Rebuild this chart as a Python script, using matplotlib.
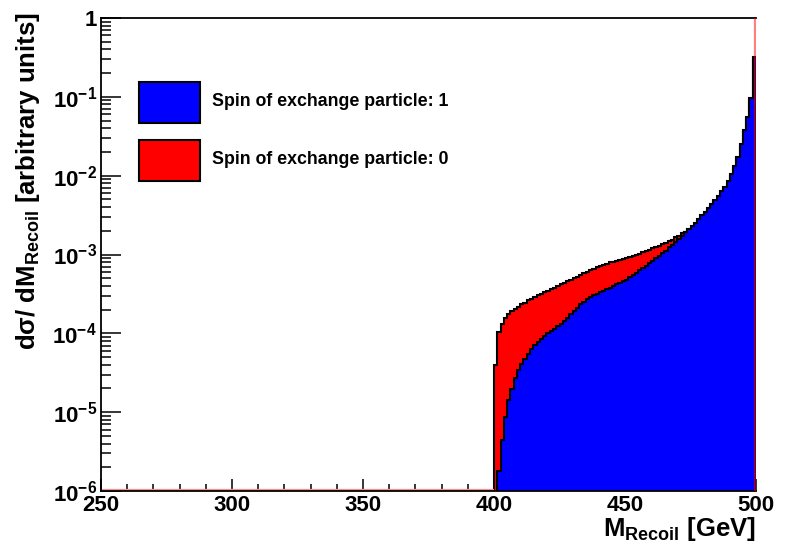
import numpy as np
import matplotlib
matplotlib.use("Agg")
import matplotlib.pyplot as plt
from matplotlib.patches import Rectangle
from matplotlib.ticker import LogLocator, MultipleLocator, FuncFormatter, NullFormatter

plt.rcParams['font.family'] = ['Liberation Sans', 'DejaVu Sans']
plt.rcParams['font.weight'] = 'bold'
plt.rcParams['mathtext.fontset'] = 'custom'
plt.rcParams['mathtext.rm'] = 'Liberation Sans:bold'
plt.rcParams['mathtext.bf'] = 'Liberation Sans:bold'
plt.rcParams['mathtext.it'] = 'Liberation Sans:bold'

# recoil mass histogram, 1.25 GeV bins from 400 to 500 GeV
bin_lo, bin_hi, bin_width = 400.0, 500.0, 1.25

# log10 of dsigma/dM per bin (None = empty bin)
spin1_log10 = [
    None, -5.74, -5.35, -5.06, -4.85, -4.70, -4.57, -4.47, -4.39, -4.32,
    -4.26, -4.20, -4.15, -4.11, -4.07, -4.03, -4.00, -3.97, -3.94, -3.91,
    -3.88, -3.84, -3.80, -3.76, -3.72, -3.68, -3.63, -3.60, -3.57, -3.54,
    -3.52, -3.50, -3.48, -3.46, -3.44, -3.42, -3.40, -3.38, -3.36, -3.34,
    -3.32, -3.29, -3.26, -3.23, -3.20, -3.17, -3.14, -3.11, -3.08, -3.05,
    -3.02, -2.98, -2.95, -2.91, -2.88, -2.84, -2.80, -2.76, -2.72, -2.68,
    -2.64, -2.60, -2.55, -2.50, -2.46, -2.41, -2.36, -2.31, -2.26, -2.20,
    -2.14, -2.07, -1.98, -1.88, -1.76, -1.60, -1.42, -1.25, -1.02, -0.49,
]
spin0_log10 = [
    -4.40, -3.98, -3.88, -3.81, -3.76, -3.72, -3.69, -3.66, -3.63, -3.61,
    -3.58, -3.56, -3.54, -3.52, -3.50, -3.48, -3.46, -3.44, -3.42, -3.40,
    -3.38, -3.36, -3.34, -3.32, -3.30, -3.28, -3.26, -3.24, -3.22, -3.20,
    -3.18, -3.16, -3.15, -3.13, -3.12, -3.10, -3.09, -3.08, -3.07, -3.06,
    -3.05, -3.03, -3.02, -3.00, -2.99, -2.97, -2.96, -2.94, -2.92, -2.91,
    -2.89, -2.87, -2.85, -2.83, -2.81, -2.78, -2.76, -2.73, -2.71, -2.68,
    -2.66, -2.63, -2.58, -2.53, -2.49, -2.44, -2.39, -2.34, -2.29, -2.23,
    -2.17, -2.10, -2.01, -1.91, -1.79, -1.63, -1.45, -1.28, -1.05, -0.52,
]
legend_labels = ["Spin of exchange particle: 1", "Spin of exchange particle: 0"]

x_min, x_max = 250, 500
y_min, y_max = 1e-6, 1.0


def to_values(logs):
    return np.array([10.0 ** e if e is not None else 0.0 for e in logs])


edges = np.arange(bin_lo, bin_hi + bin_width / 2, bin_width)
floor = y_min * 0.01
spin0 = np.maximum(to_values(spin0_log10), floor)
spin1 = np.maximum(to_values(spin1_log10), floor)

fig = plt.figure(figsize=(7.87, 5.47), dpi=100)
ax = fig.add_axes([101 / 787, 56 / 547, 655 / 787, 473 / 547])

ax.stairs(spin0, edges, fill=True, baseline=floor, facecolor='#ff0000',
          edgecolor='black', linewidth=1.5, zorder=2)
ax.stairs(spin1, edges, fill=True, baseline=floor, facecolor='#0000ff',
          edgecolor='black', linewidth=1.5, zorder=3)
# spin-0 histogram line: empty bins below threshold and its right edge
ax.hlines(y_min * 1.04, x_min, bin_lo, color='#ff8c8c', linewidth=1.6, zorder=4)
ax.vlines(x_max - 0.2, y_min, y_max, color='#ff0000', alpha=0.5,
          linewidth=1.6, zorder=6)

ax.set_yscale('log')
ax.set_xlim(x_min, x_max)
ax.set_ylim(y_min, y_max)

ax.yaxis.set_major_locator(LogLocator(base=10, numticks=10))
ax.yaxis.set_minor_locator(LogLocator(base=10, subs=np.arange(2, 10), numticks=10))
ax.yaxis.set_minor_formatter(NullFormatter())
ax.yaxis.set_major_formatter(FuncFormatter(
    lambda v, p: '1' if abs(v - 1) < 1e-9 else r'$\mathrm{10^{%d}}$' % round(np.log10(v))))
ax.xaxis.set_major_locator(MultipleLocator(50))
ax.xaxis.set_minor_locator(MultipleLocator(10))

ax.tick_params(axis='both', which='both', direction='in', top=False, right=False,
               colors='black', width=1.1)
ax.tick_params(axis='y', which='major', length=14.4, labelsize=16, pad=3)
ax.tick_params(axis='y', which='minor', length=7.2)
ax.tick_params(axis='x', which='major', length=8.6, labelsize=16, pad=3)
ax.tick_params(axis='x', which='minor', length=5.0)
for name, spine in ax.spines.items():
    spine.set_linewidth(1.3)
    spine.set_zorder(5)
ax.spines['right'].set_visible(False)

fig.text(28 / 787, 1 - 12 / 547, 'd\u03c3/ dM$_{\\mathrm{Recoil}}$ [arbitrary units]',
         rotation=90, ha='center', va='top', fontsize=18.5, fontweight='bold')
fig.text(756 / 787, 1 - 536 / 547, 'M$_{\\mathrm{Recoil}}$ [GeV]',
         ha='right', va='baseline', fontsize=18.5, fontweight='bold')

# legend boxes
for i, (label, color) in enumerate(zip(legend_labels, ['#0000ff', '#ff0000'])):
    top = 82 + i * 58
    fig.add_artist(Rectangle((139 / 787, 1 - (top + 41) / 547), 61 / 787, 41 / 547,
                             transform=fig.transFigure, facecolor=color,
                             edgecolor='black', linewidth=1.5))
    fig.text(212 / 787, 1 - (top + 20) / 547, label, ha='left', va='center',
             fontsize=12.8, fontweight='bold')

fig.savefig('out.png', dpi=100)
